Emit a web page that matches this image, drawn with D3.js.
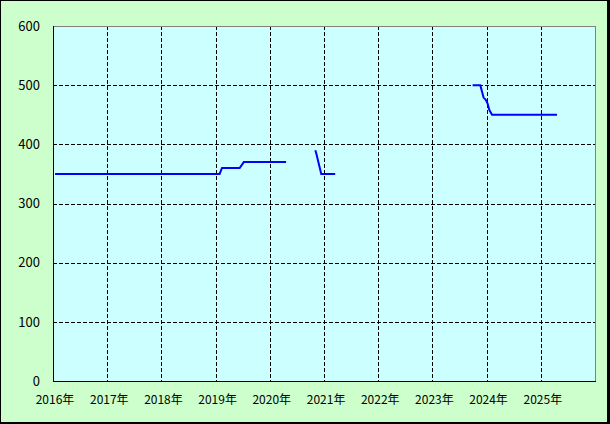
<!DOCTYPE html>
<html><head><meta charset="utf-8">
<script src="https://cdn.jsdelivr.net/npm/d3@7"></script>
<style>html,body{margin:0;padding:0;background:#000;}svg{display:block;}</style>
</head><body>
<svg id="c" width="610" height="424"></svg>
<script>
const dates = ["2016-01-15","2019-01-28","2019-02-13","2019-06-12","2019-07-10","2020-04-20",
  "2020-07-15",
  "2020-11-03","2020-11-10","2020-12-13","2021-03-17",
  "2022-06-15",
  "2023-09-29","2023-11-20","2023-12-12","2023-12-28","2024-01-08","2024-01-20","2024-02-07","2025-04-20"];
const values = [350,350,360,360,370,370,
  null,
  390,384,350,350,
  null,
  500,500,479,475,469,458,450,450];
const yearTicks = [2016,2017,2018,2019,2020,2021,2022,2023,2024,2025];
const yTicks = [0,100,200,300,400,500,600];

const parse = d3.timeParse("%Y-%m-%d");
const data = dates.map((d,i)=>({d:parse(d), v:values[i]}));
const L=53, R=595, T=26, B=381;
const x = d3.scaleTime().domain([new Date(2016,0,1), new Date(2026,0,1)]).range([L,R]);
const y = d3.scaleLinear().domain([0,600]).range([B,T]);
const svg = d3.select("#c");
svg.append("rect").attr("x",1).attr("y",1).attr("width",606).attr("height",421).attr("fill","#ccffcc");
svg.append("rect").attr("x",L).attr("y",T).attr("width",R-L).attr("height",B-T).attr("fill","#ccffff");
const g = svg.append("g").attr("shape-rendering","crispEdges");
g.selectAll(".hg").data(yTicks.filter(t=>t>0&&t<600)).enter().append("line")
  .attr("x1",L).attr("x2",R).attr("y1",d=>Math.round(y(d))+0.5).attr("y2",d=>Math.round(y(d))+0.5)
  .attr("stroke","#000").attr("stroke-dasharray","4,2");
g.selectAll(".vg").data(yearTicks.filter(t=>t>2016)).enter().append("line")
  .attr("x1",d=>Math.round(x(new Date(d,0,1)))+0.5).attr("x2",d=>Math.round(x(new Date(d,0,1)))+0.5)
  .attr("y1",T).attr("y2",B).attr("stroke","#000").attr("stroke-dasharray","4,2");
const line = d3.line().defined(d=>d.v!=null).x(d=>x(d.d)).y(d=>y(d.v));
svg.append("path").datum(data).attr("d",line).attr("fill","none").attr("stroke","#0000ff").attr("stroke-width",2);
// borders
g.append("line").attr("x1",L).attr("x2",R+1).attr("y1",T+0.5).attr("y2",T+0.5).attr("stroke","#808080");
g.append("line").attr("x1",R+0.5).attr("x2",R+0.5).attr("y1",T).attr("y2",B).attr("stroke","#808080");
g.append("line").attr("x1",L+0.5).attr("x2",L+0.5).attr("y1",T).attr("y2",B+1).attr("stroke","#000");
g.append("line").attr("x1",L).attr("x2",R+1).attr("y1",B+0.5).attr("y2",B+0.5).attr("stroke","#000");
// labels
const font = "'Noto Sans CJK JP', 'DejaVu Sans', sans-serif";
svg.selectAll(".yl").data(yTicks).enter().append("text")
  .attr("x",40).attr("y",d=>y(d)).attr("dy","0.36em").attr("text-anchor","end")
  .attr("font-family",font).attr("font-size",13).attr("fill","#000").text(d=>d);
svg.selectAll(".xl").data(yearTicks).enter().append("text")
  .attr("x",d=>x(new Date(d,0,1))+2).attr("y",404).attr("text-anchor","middle")
  .attr("font-family",font).attr("font-size",12).attr("fill","#000").text(d=>d+"年");
</script>
</body></html>
